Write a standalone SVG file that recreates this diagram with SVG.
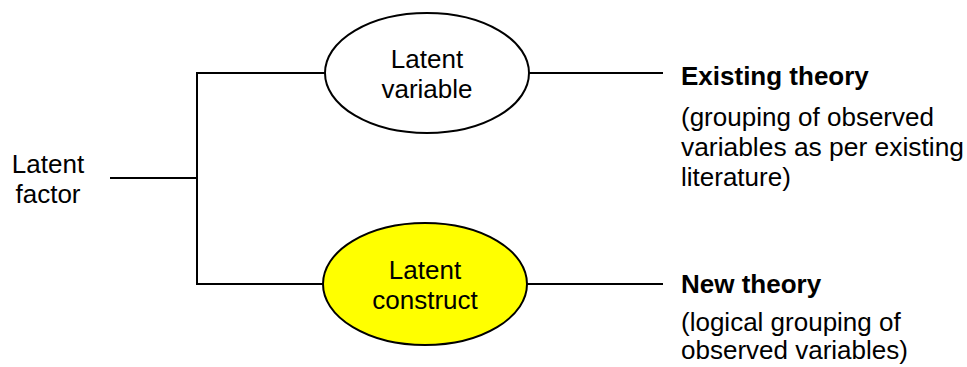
<svg xmlns="http://www.w3.org/2000/svg" width="967" height="367" viewBox="0 0 967 367">
<style>
text{font-family:"Liberation Sans",Arial,sans-serif;font-size:26px;fill:#000}
.c{text-anchor:middle}
.b{font-weight:bold}
.ln{stroke:#000;stroke-width:2;fill:none}
.el{stroke:#000;stroke-width:2}
</style>
<rect width="967" height="367" fill="#fff"/>
<g id="connectors">
<line class="ln" x1="110" y1="178" x2="197" y2="178"/>
<polyline class="ln" points="325,73 197,73 197,284 323,284"/>
<line class="ln" x1="529" y1="73" x2="663" y2="73"/>
<line class="ln" x1="527" y1="284" x2="663" y2="284"/>
</g>
<g id="latent-factor">
<text class="c" x="48" y="173">Latent</text>
<text class="c" x="48" y="203">factor</text>
</g>
<g id="latent-variable">
<ellipse class="el" cx="427" cy="73" rx="102" ry="60" fill="#fff"/>
<text class="c" x="427" y="68">Latent</text>
<text class="c" x="427" y="98">variable</text>
</g>
<g id="latent-construct">
<ellipse class="el" cx="425" cy="284" rx="102" ry="61" fill="#ffff00"/>
<text class="c" x="425" y="279">Latent</text>
<text class="c" x="425" y="309">construct</text>
</g>
<g id="existing-theory">
<text class="b" x="681" y="85">Existing theory</text>
<text x="681" y="126">(grouping of observed</text>
<text x="681" y="156" textLength="283" lengthAdjust="spacingAndGlyphs">variables as per existing</text>
<text x="681" y="186">literature)</text>
</g>
<g id="new-theory">
<text class="b" x="681" y="293">New theory</text>
<text x="681" y="331">(logical grouping of</text>
<text x="681" y="359">observed variables)</text>
</g>
</svg>
